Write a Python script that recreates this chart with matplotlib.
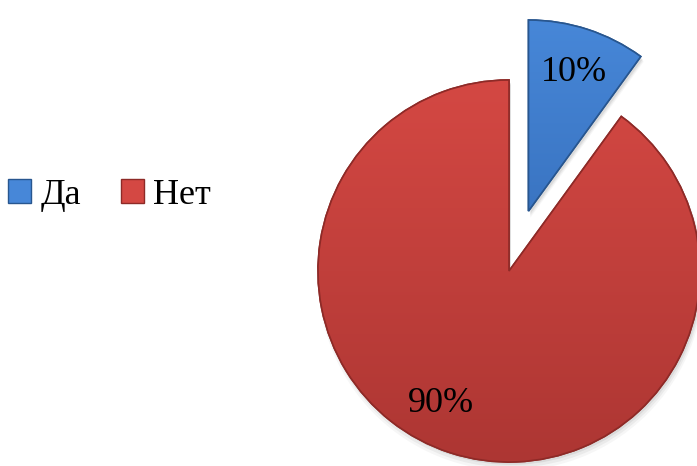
import matplotlib
matplotlib.use("Agg")
import matplotlib.pyplot as plt
import numpy as np
from matplotlib.colors import LinearSegmentedColormap

labels = ["Да", "Нет"]
shares = [10, 90]
pct_labels = ["10%", "90%"]

# top / bottom tones for the bevelled look
tones = [("#4787d8", "#2d62ac"), ("#d44843", "#ad3633")]
edges = ["#28568f", "#8e2a27"]

plt.rcParams["font.family"] = ["Liberation Serif", "DejaVu Serif"]

W, H = 697, 466
fig = plt.figure(figsize=(W / 100, H / 100), dpi=100)
ax = fig.add_axes([0, 0, 1, 1])

# pie centre and radius in pixels
cx_px, cy_px, r_px = 509, 271, 191

wedges, _ = ax.pie(
    shares,
    startangle=90,
    counterclock=False,
    explode=[0.33, 0],
    colors=[t[0] for t in tones],
    radius=1.0,
    wedgeprops=dict(linewidth=1.2),
)

# soft drop shadow
for w in wedges:
    for k, a in enumerate([0.10, 0.07, 0.05]):
        sh = matplotlib.patches.Wedge(
            (w.center[0] + 0.01, w.center[1] - 0.015 - 0.01 * k),
            w.r + 0.005 * k, w.theta1, w.theta2,
            facecolor="#555555", edgecolor="none", alpha=a, zorder=0.5)
        ax.add_patch(sh)

grad = np.linspace(1, 0, 256).reshape(-1, 1)
for w, (top, bot), ec in zip(wedges, tones, edges):
    w.set_edgecolor(ec)
    w.set_zorder(1)
    cmap = LinearSegmentedColormap.from_list("g", [bot, top])
    x0, y0 = w.center
    im = ax.imshow(grad, cmap=cmap, aspect="auto", zorder=1.5,
                   extent=[x0 - w.r, x0 + w.r, y0 - w.r, y0 + w.r])
    im.set_clip_path(w)
    # rim drawn over the gradient
    rim = matplotlib.patches.Wedge(w.center, w.r, w.theta1, w.theta2,
                                   facecolor="none", edgecolor=ec,
                                   linewidth=1.2, zorder=2)
    ax.add_patch(rim)

# percentage labels
ax.text((574 - cx_px) / r_px, (cy_px - 72) / r_px, pct_labels[0],
        fontsize=26, ha="center", va="center", zorder=3)
ax.text((441 - cx_px) / r_px, (cy_px - 403) / r_px, pct_labels[1],
        fontsize=26, ha="center", va="center", zorder=3)

ax.set_xlim(-cx_px / r_px, (W - cx_px) / r_px)
ax.set_ylim(-(H - cy_px) / r_px, cy_px / r_px)
ax.set_aspect("auto")
ax.axis("off")

handles = [matplotlib.patches.Patch(facecolor=t[0], edgecolor=e)
           for t, e in zip(tones, edges)]
fig.legend(handles, labels, loc="center left", ncol=2, frameon=False,
           bbox_to_anchor=(8 / W, 1 - 195 / H), fontsize=26,
           handlelength=0.65, handleheight=0.65, handletextpad=0.25,
           columnspacing=1.1, borderpad=0, borderaxespad=0)

fig.savefig("out.png", dpi=100)
